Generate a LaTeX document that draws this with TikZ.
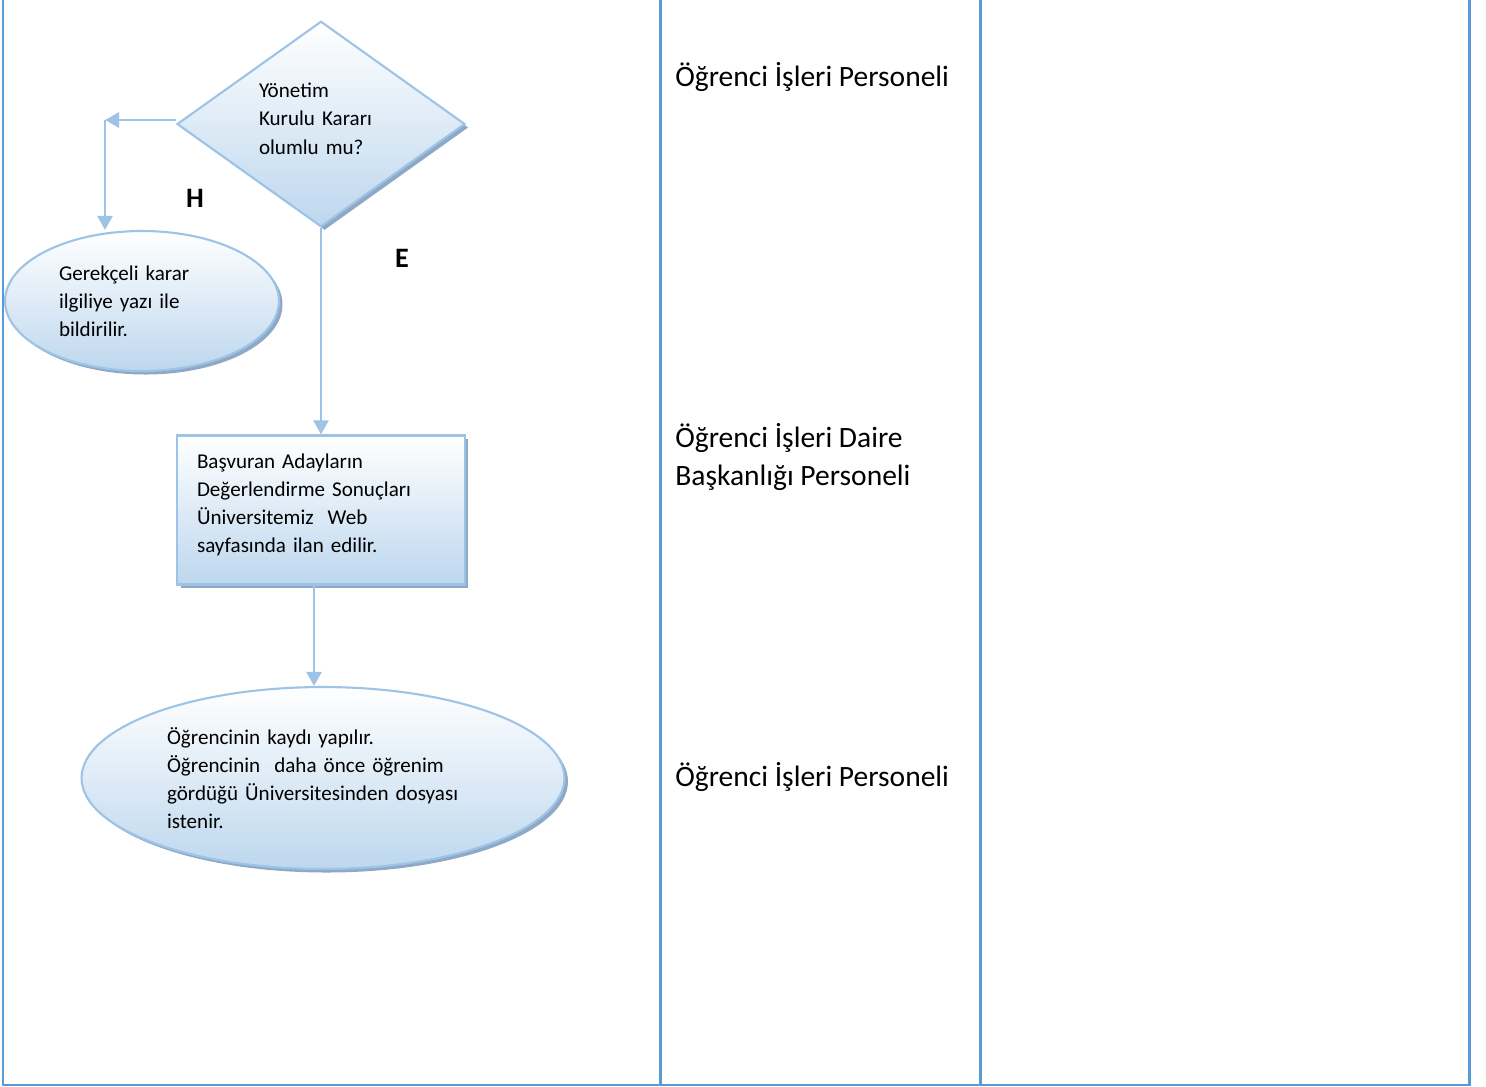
\documentclass[tikz,border=0pt]{standalone}
\usepackage{fontspec}
\setmainfont{Carlito}
\usepackage{xcolor}
\usepackage{tikz}
\usetikzlibrary{positioning, arrows.meta, shapes.geometric, shadows}

\definecolor{laneblue}{HTML}{5B9BD5}
\definecolor{shapeline}{HTML}{9DC3E6}
\definecolor{shapefill}{HTML}{BDD7EE}
\definecolor{shadowgray}{HTML}{8FA8C6}

\begin{document}
\begin{tikzpicture}[
				% one unit = one pixel of the page, y runs downwards
				x=0.02cm, y=-0.02cm,
				flow/.style={
					draw=shapeline,
					line width=1.2pt,
					top color=white,
					bottom color=shapefill,
					align=left,
					font=\fontsize{12}{16}\selectfont,
					drop shadow={shadow xshift=2pt, shadow yshift=-2pt, fill=shadowgray, opacity=1}
				},
				decision/.style={flow, diamond, minimum width=5.76cm, minimum height=4.08cm, inner sep=0pt},
				oval/.style={flow, ellipse, inner sep=0pt},
				box/.style={flow, rectangle, minimum width=5.76cm, minimum height=2.98cm, inner sep=0pt},
				arrow/.style={-{Triangle[width=8.5pt,length=8pt]}, draw=shapeline, line width=1.5pt},
				lane/.style={draw=laneblue, line width=1.7pt},
				lanetext/.style={anchor=west, align=left, inner sep=0pt, font=\fontsize{16.8}{22}\selectfont},
				answer/.style={font=\bfseries\fontsize{16}{18}\selectfont}
				]
				\useasboundingbox (0,0) rectangle (1486,1086);
				
				% --- 1. Lanes ---
				\draw[lane] (3,0) -- (3,1086);
				\draw[lane] (660,0) -- (660,1086);
				\draw[lane] (980,0) -- (980,1086);
				\draw[lane] (1469,0) -- (1469,1086);
				\draw[draw=laneblue, line width=0.6pt] (3,1085) -- (1469,1085);
				
				% --- 2. Flow shapes ---
				\node[decision, text width=2.48cm] (decide) at (321,124) {Yönetim\\Kurulu Kararı\\olumlu mu?\vspace{6pt}};
				\node[oval, minimum width=5.48cm, minimum height=2.8cm, text width=3.32cm] (reject) at (142,301) {Gerekçeli karar\\ilgiliye yazı ile\\bildirilir.};
				\node[box, text width=4.96cm] (announce) at (321,510) {Başvuran Adayların\\Değerlendirme Sonuçları\\Üniversitemiz~ Web\\sayfasında ilan edilir.\vspace{6pt}};
				\node[oval, minimum width=9.66cm, minimum height=3.64cm, text width=6.24cm] (enroll) at (323,778) {Öğrencinin kaydı yapılır.\\Öğrencinin~ daha önce öğrenim\\gördüğü Üniversitesinden dosyası\\istenir.};
				
				% --- 3. Connectors ---
				\coordinate (hcorner) at (105,120);
				\draw[arrow] (decide.west |- hcorner) -- (hcorner);
				\draw[arrow] (hcorner) -- (hcorner |- reject.north);
				\draw[arrow] (decide.south) -- (announce.north);
				\draw[arrow] ([xshift=-0.14cm]announce.south) -- ([xshift=-0.14cm]announce.south |- enroll.north);
				
				\node[answer] (no) at (195,198) {H};
				\node[answer] (yes) at (402,258) {E};
				
				% --- 4. Lane owners ---
				\node[lanetext] (staff1) at (675,77) {Öğrenci İşleri Personeli};
				\node[lanetext] (staff2) at (675,457) {Öğrenci İşleri Daire\\Başkanlığı Personeli};
				\node[lanetext] (staff3) at (675,777) {Öğrenci İşleri Personeli};
				
			\end{tikzpicture}
\end{document}
